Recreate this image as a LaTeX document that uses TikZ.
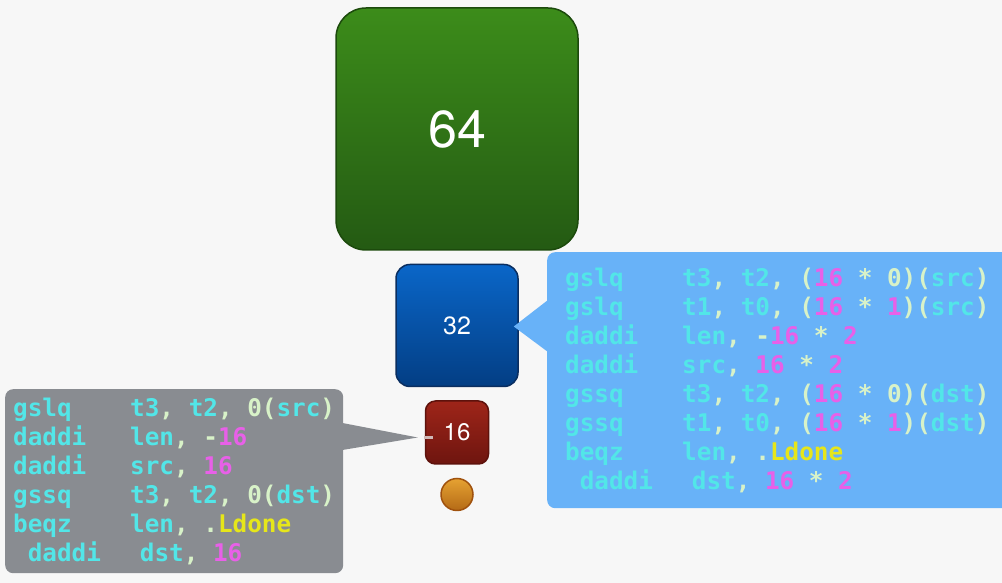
\documentclass[tikz,border=0pt]{standalone}
\usepackage{fontspec}
\setmainfont{TeX Gyre Heros}
\setmonofont{DejaVu Sans Mono}
\usetikzlibrary{calc, positioning, shadings}
\definecolor{bgcol}{HTML}{F7F7F7}
\definecolor{gtop}{HTML}{3C8C1A}
\definecolor{gbot}{HTML}{245A13}
\definecolor{gline}{HTML}{1C4A0C}
\definecolor{btop}{HTML}{0A66C8}
\definecolor{bbot}{HTML}{033E84}
\definecolor{bline}{HTML}{0A2E60}
\definecolor{rtop}{HTML}{9E2519}
\definecolor{rbot}{HTML}{6E150F}
\definecolor{rline}{HTML}{5E120C}
\definecolor{otop}{HTML}{E6A232}
\definecolor{obot}{HTML}{B46A16}
\definecolor{oline}{HTML}{A0520E}
\definecolor{callblue}{HTML}{68B2F8}
\definecolor{callgray}{HTML}{898C91}
\definecolor{codecyan}{HTML}{52E6E8}
\definecolor{codepink}{HTML}{E860E8}
\definecolor{codeyel}{HTML}{E6E61A}
\definecolor{codelight}{HTML}{D8F2C8}
\tikzset{
    block/.style={draw, rectangle, line width=1.5pt, text=white, inner sep=0pt},
    blk64/.style={block, minimum size=242pt, rounded corners=30pt, top color=gtop, bottom color=gbot, draw=gline, font=\fontsize{52}{52}\selectfont},
    blk32/.style={block, minimum size=122pt, rounded corners=14pt, top color=btop, bottom color=bbot, draw=bline, font=\fontsize{25}{25}\selectfont},
    blk16/.style={block, minimum size=63pt, rounded corners=10pt, top color=rtop, bottom color=rbot, draw=rline, font=\fontsize{24}{24}\selectfont},
    blk8/.style={draw=oline, circle, line width=1.5pt, minimum size=32pt, inner sep=0pt, top color=otop, bottom color=obot},
    codebox/.style={rectangle, rounded corners=8pt, align=left, anchor=north west, text=codelight, font=\codefont},
    pointer/.style={line join=miter},
    tipline/.style={draw=rline!30!white, line width=3pt} }
% one column of the code font
\newlength{\cw}
\newcommand{\codefont}{\ttfamily\bfseries\fontsize{24.3}{29}\selectfont\settowidth{\cw}{x}}
\newcommand{\pad}[1]{\hspace*{#1\cw}}
\newcommand{\spc}{\pad{1}}
\newcommand{\rg}[1]{\textcolor{codecyan}{#1}}
\newcommand{\im}[1]{\textcolor{codepink}{#1}}
\newcommand{\lbl}[1]{\textcolor{codeyel}{#1}}

\begin{document}
\begin{tikzpicture}[x=1pt, y=1pt, node distance=13pt]
			\fill[bgcol] (0,0) rectangle (1002,583);
			\useasboundingbox (0,0) rectangle (1002,583);
			% ----
			\node[blk64] (g64) at (457,454) {64};
			\node[blk32, below = of g64] (b32) {32};
			\node[blk16, below = of b32] (r16) {16};
			\node[blk8, below = of r16] (o8) {};
			% ----
			\node[codebox, fill=callblue, inner xsep=18pt, text width=440pt, minimum height=256pt] (bcode) at (547,331) {%
				\rg{gslq}\pad{4}\rg{t3},\spc\rg{t2},\spc(\im{16}\spc*\spc0)(\rg{src})\\
				\rg{gslq}\pad{4}\rg{t1},\spc\rg{t0},\spc(\im{16}\spc*\spc\im{1})(\rg{src})\\
				\rg{daddi}\pad{3}\rg{len},\spc-\im{16}\spc*\spc\im{2}\\
				\rg{daddi}\pad{3}\rg{src},\spc\im{16}\spc*\spc\im{2}\\
				\rg{gssq}\pad{4}\rg{t3},\spc\rg{t2},\spc(\im{16}\spc*\spc0)(\rg{dst})\\
				\rg{gssq}\pad{4}\rg{t1},\spc\rg{t0},\spc(\im{16}\spc*\spc\im{1})(\rg{dst})\\
				\rg{beqz}\pad{4}\rg{len},\spc.\lbl{Ldone}\\
				\pad{1}\rg{daddi}\pad{2.66}\rg{dst},\spc\im{16}\spc*\spc\im{2}};
			\node[codebox, fill=callgray, inner xsep=8pt, text width=322pt, minimum height=184pt] (gcode) at (5,194) {%
				\rg{gslq}\pad{4}\rg{t3},\spc\rg{t2},\spc0(\rg{src})\\
				\rg{daddi}\pad{3}\rg{len},\spc-\im{16}\\
				\rg{daddi}\pad{3}\rg{src},\spc\im{16}\\
				\rg{gssq}\pad{4}\rg{t3},\spc\rg{t2},\spc0(\rg{dst})\\
				\rg{beqz}\pad{4}\rg{len},\spc.\lbl{Ldone}\\
				\pad{1}\rg{daddi}\pad{2.66}\rg{dst},\spc\im{16}};
			% ----
			\fill[pointer, callblue] ($(bcode.north west)+(1,-48)$) -- ($(b32.east)+(-5,-1)$) -- ($(bcode.north west)+(1,-100)$) -- cycle;
			\fill[pointer, callgray] ($(gcode.north east)+(-1,-34)$) -- ($(r16.west)+(-7,-5)$) -- ($(gcode.north east)+(-1,-61)$) -- cycle;
			\draw[tipline] ($(r16.west)+(-1,-5)$) -- ++(9,0);
		\end{tikzpicture}
\end{document}
